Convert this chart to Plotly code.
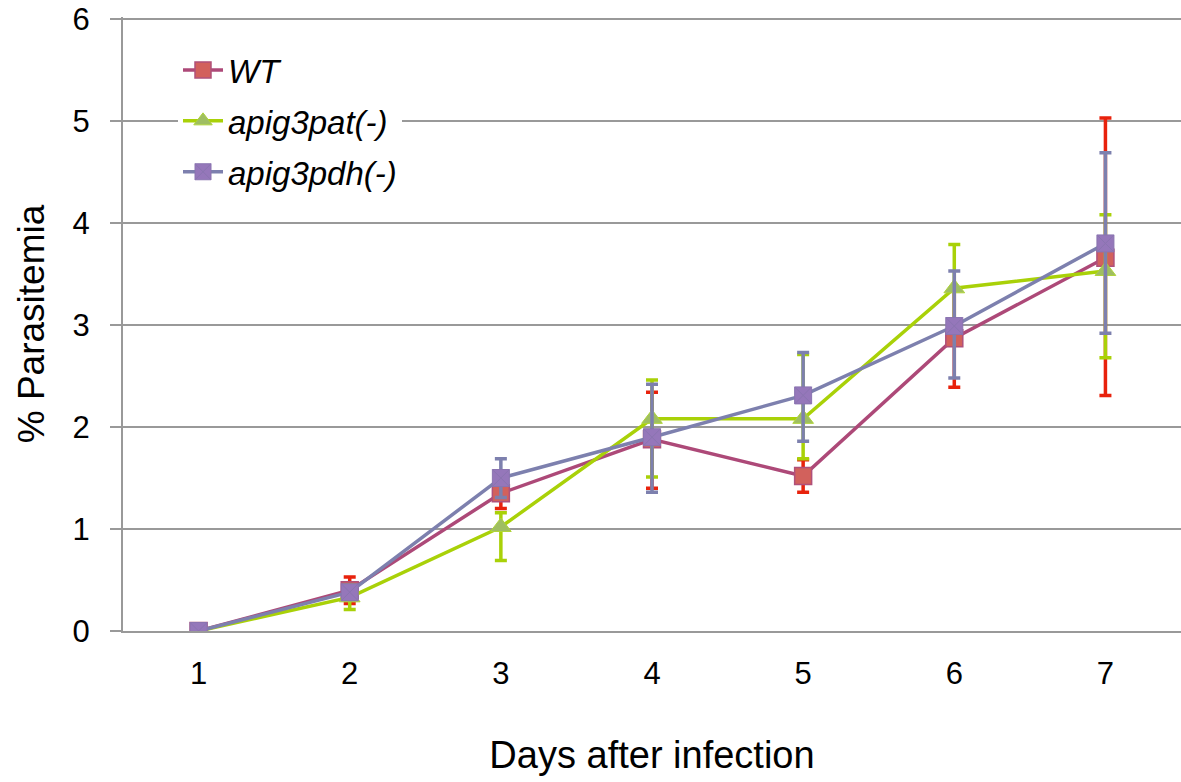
import plotly.graph_objects as go

days = ["1", "2", "3", "4", "5", "6", "7"]

wt = [0, 0.40, 1.35, 1.88, 1.52, 2.87, 3.66]
wt_plus = [0, 0.13, 0.15, 0.46, 0.16, 0.48, 1.37]
wt_minus = [0, 0.13, 0.15, 0.48, 0.16, 0.48, 1.35]

pat = [0, 0.33, 1.02, 2.08, 2.08, 3.36, 3.53]
pat_plus = [0, 0.12, 0.14, 0.38, 0.63, 0.43, 0.55]
pat_minus = [0, 0.12, 0.33, 0.57, 0.39, 0.43, 0.85]

pdh = [0, 0.38, 1.50, 1.90, 2.31, 2.99, 3.80]
pdh_plus = [0, 0.05, 0.19, 0.52, 0.42, 0.54, 0.89]
pdh_minus = [0, 0.05, 0.19, 0.54, 0.45, 0.51, 0.88]

y_ticks = [0, 1, 2, 3, 4, 5, 6]

FONT = "Arial, Liberation Sans, sans-serif"

fig = go.Figure()

fig.add_trace(go.Scatter(
    x=days, y=wt, name="<i>WT</i>", mode="lines+markers", legendgroup="a",
    line=dict(color="#AD4978", width=3.5),
    marker=dict(symbol="square", size=17, color="#D2615C",
                line=dict(color="#B0507A", width=1.5)),
    error_y=dict(type="data", symmetric=False, array=wt_plus, arrayminus=wt_minus,
                 color="#E8220C", thickness=3.5, width=6),
))
fig.add_trace(go.Scatter(
    x=days, y=pat, name="<i>apig3pat(-)</i>", mode="lines+markers", legendgroup="b",
    line=dict(color="#A9D108", width=3.5),
    marker=dict(symbol="triangle-up", size=18, color="#9FBE62",
                line=dict(color="#AFD43A", width=1)),
    error_y=dict(type="data", symmetric=False, array=pat_plus, arrayminus=pat_minus,
                 color="#A9D108", thickness=3.5, width=6),
))
fig.add_trace(go.Scatter(
    x=days, y=pdh, name="<i>apig3pdh(-)</i>", mode="lines+markers", legendgroup="c",
    line=dict(color="#7D80AE", width=3.5),
    marker=dict(symbol="square-x", size=17, color="#9577BA",
                line=dict(color="#8A74B0", width=1)),
    error_y=dict(type="data", symmetric=False, array=pdh_plus, arrayminus=pdh_minus,
                 color="#7D80AE", thickness=3.5, width=6),
))

fig.update_layout(
    width=1181, height=782,
    margin=dict(l=123, r=0, t=17, b=151),
    paper_bgcolor="white", plot_bgcolor="white",
    font=dict(family=FONT, color="black", size=31),
    showlegend=True,
    legend=dict(
        x=55 / 1058, y=(614 - 25) / 614, xanchor="left", yanchor="top",
        bgcolor="white", borderwidth=0,
        font=dict(family=FONT, size=33, color="black"),
        traceorder="grouped", tracegroupgap=5,
        itemwidth=40,
    ),
    xaxis=dict(
        type="category", range=[-0.5, 6.5],
        showgrid=False, showline=True, linecolor="#999999", linewidth=2,
        ticks="", ticklabelstandoff=14,
        tickfont=dict(size=31),
        title=dict(text="Days after infection", font=dict(size=38), standoff=51),
    ),
    yaxis=dict(
        range=[0, 6.02], tickmode="array", tickvals=y_ticks,
        showgrid=True, gridcolor="#999999", gridwidth=2,
        showline=True, linecolor="#999999", linewidth=2,
        ticks="outside", ticklen=11, tickcolor="#999999", tickwidth=2,
        ticklabelstandoff=14, ticklabeloverflow="allow",
        tickfont=dict(size=31),
        zeroline=False,
        title=dict(text="% Parasitemia", font=dict(size=37), standoff=17),
    ),
)

fig.write_html("out.html", post_script="document.body.style.margin='0';",
               config={"displayModeBar": False})
